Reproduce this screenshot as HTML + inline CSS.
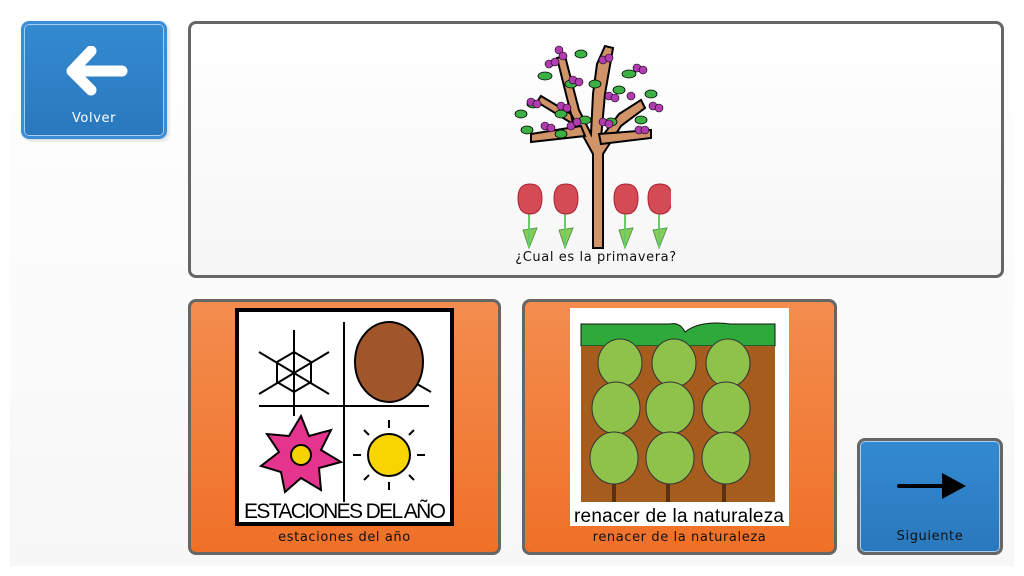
<!DOCTYPE html>
<html><head><meta charset="utf-8"><style>
body{margin:0;width:1024px;height:576px;background:#fff;position:relative;overflow:hidden;font-family:"Liberation Sans","DejaVu Sans",sans-serif}
.bg{position:absolute;left:10px;top:0;width:1004px;height:566px;background:linear-gradient(#fff,#f7f7f7)}
.b{position:absolute;box-sizing:border-box;border-radius:8px}
.lbl{position:absolute;left:0;right:0;text-align:center;font-size:14px;letter-spacing:.6px;font-family:"DejaVu Sans",sans-serif;font-size:13px}
</style></head><body>
<div class="bg"></div>
<div class="b" style="left:21px;top:21px;width:146px;height:118px;background:linear-gradient(#338ad0,#2a78bd);border:3px solid #3a8ed8;box-shadow:inset 0 0 0 1px #a8cdf0,2px 2px 3px #ddd">
<svg style="position:absolute;left:36px;top:22px" width="70" height="50"><path d="M62 25H20M31 5L12 25L31 44" stroke="#fff" stroke-width="11" fill="none" stroke-linecap="round" stroke-linejoin="round"/></svg>
<div class="lbl" style="top:87px;color:#fff">Volver</div></div>

<div class="b" style="left:188px;top:21px;width:816px;height:257px;background:linear-gradient(#fff,#f6f6f6);border:3px solid #666">
<svg style="position:absolute;left:310px;top:10px" width="170" height="220">
<g stroke="#000" stroke-width="2" fill="#d09468">
<path d="M92 214V120L70 80 L56 24 L64 22 L78 76 L90 100 L92 60 L96 30 L104 12 L112 14 L104 60 L100 104 L118 80 L140 66 L144 74 L120 92 L102 120 V214Z"/>
<path d="M80 92L30 100 L30 108 L84 102Z"/><path d="M98 100L150 96 L150 104 L100 110Z"/><path d="M70 80L40 62 L36 68 L72 90Z"/>
</g>
<g fill="#3cb043" stroke="#000" stroke-width=".8">
<ellipse cx="44" cy="42" rx="7" ry="4"/><ellipse cx="80" cy="20" rx="6" ry="4"/><ellipse cx="128" cy="40" rx="7" ry="4"/><ellipse cx="32" cy="70" rx="6" ry="4"/><ellipse cx="140" cy="86" rx="6" ry="4"/><ellipse cx="60" cy="80" rx="6" ry="4"/><ellipse cx="110" cy="88" rx="6" ry="4"/><ellipse cx="94" cy="50" rx="6" ry="4"/><ellipse cx="26" cy="96" rx="6" ry="4"/><ellipse cx="70" cy="50" rx="6" ry="4"/><ellipse cx="118" cy="56" rx="6" ry="4"/><ellipse cx="84" cy="86" rx="6" ry="4"/><ellipse cx="20" cy="80" rx="6" ry="4"/><ellipse cx="150" cy="60" rx="6" ry="4"/><ellipse cx="60" cy="100" rx="6" ry="4"/></g>
<g fill="#b03cb0" stroke="#000" stroke-width=".6">
<circle cx="58" cy="16" r="4"/><circle cx="62" cy="22" r="4"/><circle cx="102" cy="26" r="4"/><circle cx="108" cy="24" r="4"/><circle cx="48" cy="30" r="4"/><circle cx="54" cy="28" r="4"/><circle cx="136" cy="34" r="4"/><circle cx="142" cy="36" r="4"/><circle cx="30" cy="68" r="4"/><circle cx="36" cy="70" r="4"/><circle cx="72" cy="46" r="4"/><circle cx="78" cy="48" r="4"/><circle cx="108" cy="62" r="4"/><circle cx="114" cy="64" r="4"/><circle cx="130" cy="62" r="4"/><circle cx="152" cy="72" r="4"/><circle cx="158" cy="74" r="4"/><circle cx="44" cy="92" r="4"/><circle cx="50" cy="94" r="4"/><circle cx="70" cy="92" r="4"/><circle cx="76" cy="88" r="4"/><circle cx="102" cy="88" r="4"/><circle cx="108" cy="90" r="4"/><circle cx="138" cy="96" r="4"/><circle cx="144" cy="96" r="4"/><circle cx="60" cy="72" r="4"/><circle cx="66" cy="74" r="4"/></g>
<g><g id="t"><path d="M22 196L28 214 L36 194Z" fill="#8c5" stroke="#595" stroke-width="1"/><path d="M28 214V176" stroke="#6c6" stroke-width="2"/><path d="M17 164Q17 150 29 150 Q41 150 41 164 Q41 180 29 180 Q17 180 17 164Z" fill="#d44a55" stroke="#a23" stroke-width="1"/></g>
<use href="#t" x="36"/><use href="#t" x="96"/><use href="#t" x="130"/></g>
</svg>
<div class="lbl" style="top:226px;color:#111">¿Cual es la primavera?</div></div>

<div class="b" style="left:188px;top:299px;width:313px;height:256px;background:linear-gradient(#f38d4e,#f07028);border:3px solid #666">
<div style="position:absolute;left:44px;top:6px;width:219px;height:218px;background:#fff;border:4px solid #000;box-sizing:border-box">
<svg width="211" height="210" style="position:absolute;left:0;top:0">
<path d="M105 10V190M20 94H190" stroke="#000" stroke-width="2"/>
<g stroke="#000" stroke-width="2" fill="none"><path d="M55 18V104M20 40L90 82M20 82L90 40"/><polygon points="55,40 72,50 72,70 55,80 38,70 38,50"/></g>
<ellipse cx="150" cy="50" rx="34" ry="40" fill="#a0562a" stroke="#000" stroke-width="2"/><path d="M178 72L192 80" stroke="#000" stroke-width="2"/>
<polygon points="62,104 70,124 92,118 82,138 102,150 80,156 82,178 62,166 46,180 42,160 22,154 40,140 28,122 50,124" fill="#e5348e" stroke="#000" stroke-width="2"/>
<circle cx="62" cy="143" r="10" fill="#f6d300" stroke="#000" stroke-width="2"/>
<circle cx="150" cy="143" r="21" fill="#f8d400" stroke="#000" stroke-width="2"/>
<path d="M150 108V116M150 170V178M114 143H122M178 143H186M125 118L130 123M175 118L170 123M125 168L130 163M175 168L170 163" stroke="#000" stroke-width="2"/>
<text x="106" y="206" font-size="21" text-anchor="middle" font-family="Liberation Sans Narrow,Liberation Sans,sans-serif" textLength="202">ESTACIONES DEL AÑO</text>
</svg></div>
<div class="lbl" style="top:228px;color:#111">estaciones del año</div></div>

<div class="b" style="left:522px;top:299px;width:315px;height:256px;background:linear-gradient(#f38d4e,#f07028);border:3px solid #666">
<div style="position:absolute;left:45px;top:6px;width:219px;height:218px;background:#fff">
<svg width="219" height="218">
<path d="M11 16H100Q110 14 115 24Q130 12 160 16H205V38H11Z" fill="#2eaa3a" stroke="#111" stroke-width="1"/>
<rect x="11" y="38" width="194" height="156" fill="#a65c1c"/>
<g stroke="#5a3010" stroke-width="4"><path d="M44 160V194M98 160V194M154 160V194"/></g>
<g fill="#8fc24a" stroke="#333" stroke-width="1">
<ellipse cx="50" cy="55" rx="22" ry="24"/><ellipse cx="104" cy="55" rx="22" ry="24"/><ellipse cx="158" cy="55" rx="22" ry="24"/>
<ellipse cx="46" cy="100" rx="24" ry="26"/><ellipse cx="100" cy="100" rx="24" ry="26"/><ellipse cx="156" cy="100" rx="24" ry="26"/>
<ellipse cx="44" cy="150" rx="24" ry="26"/><ellipse cx="100" cy="150" rx="24" ry="26"/><ellipse cx="156" cy="150" rx="24" ry="26"/></g>
<text x="109" y="214" font-size="19" text-anchor="middle" font-family="Liberation Sans Narrow,Liberation Sans,sans-serif" textLength="210">renacer de la naturaleza</text>
</svg></div>
<div class="lbl" style="top:228px;color:#111">renacer de la naturaleza</div></div>

<div class="b" style="left:857px;top:438px;width:146px;height:117px;background:linear-gradient(#338ad0,#2a78bd);border:3px solid #666;box-shadow:inset 0 0 0 1px #a8cdf0">
<svg style="position:absolute;left:36px;top:30px" width="74" height="30"><path d="M3 15H48" stroke="#000" stroke-width="4" stroke-linecap="round"/><polygon points="46,2 70,15 46,28" fill="#000"/></svg>
<div class="lbl" style="top:88px;color:#111">Siguiente</div></div>
</body></html>
